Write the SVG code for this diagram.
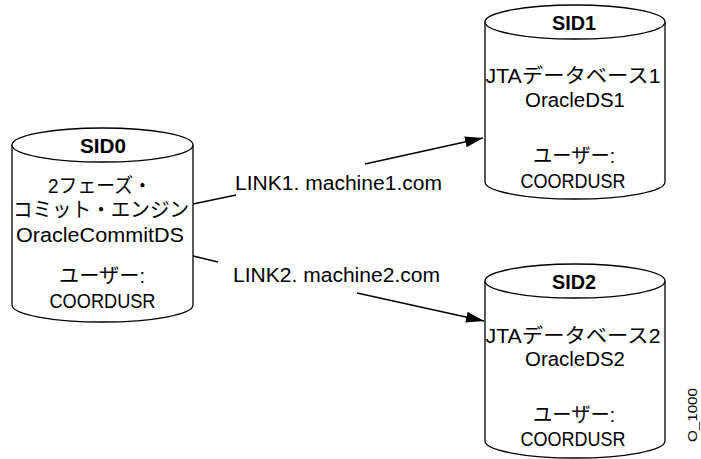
<svg xmlns="http://www.w3.org/2000/svg" width="701" height="459" viewBox="0 0 701 459">
<style>
.cyl{fill:#fff;stroke:#000;stroke-width:1.3}
.t{font-family:"Liberation Sans","Noto Sans CJK JP",sans-serif;font-size:20.5px;fill:#000;text-anchor:middle}
.b{font-weight:bold;font-size:21px}
.ln{fill:none;stroke:#000;stroke-width:1.3}
</style>
<defs>
<marker id="ah" viewBox="0 0 18 11" refX="18" refY="5.5" markerWidth="18" markerHeight="11" markerUnits="userSpaceOnUse" orient="auto">
<path d="M0,0 L18,5.5 L0,11 Z" fill="#000"/>
</marker>
</defs>
<rect width="701" height="459" fill="#fff"/>
<g id="connectors">
<path class="ln" d="M193,204 L236,195"/>
<path class="ln" d="M365,164 L483,138" marker-end="url(#ah)"/>
<path class="ln" d="M193,256 L218,262"/>
<path class="ln" d="M357,293 L484,321" marker-end="url(#ah)"/>
<text class="t" x="338.5" y="190" textLength="207" lengthAdjust="spacingAndGlyphs">LINK1. machine1.com</text>
<text class="t" x="336.5" y="282" textLength="207" lengthAdjust="spacingAndGlyphs">LINK2. machine2.com</text>
</g>
<g id="sid0">
<path class="cyl" d="M12,145 L12,305 A90.5,17 0 0 0 193,305 L193,145"/>
<ellipse class="cyl" cx="102.5" cy="145" rx="90.5" ry="17"/>
<text class="t b" x="103" y="153" textLength="46" lengthAdjust="spacingAndGlyphs">SID0</text>
<text class="t" x="100" y="193" textLength="104" lengthAdjust="spacingAndGlyphs">2フェーズ・</text>
<text class="t" x="101" y="217" textLength="176" lengthAdjust="spacingAndGlyphs">コミット・エンジン</text>
<text class="t" x="100" y="242" textLength="168" lengthAdjust="spacingAndGlyphs">OracleCommitDS</text>
<text class="t" x="102" y="283" textLength="86" lengthAdjust="spacingAndGlyphs">ユーザー:</text>
<text class="t" x="102.5" y="308" textLength="106" lengthAdjust="spacingAndGlyphs">COORDUSR</text>
</g>
<g id="sid1">
<path class="cyl" d="M485,22 L485,182 A90,17 0 0 0 665,182 L665,22"/>
<ellipse class="cyl" cx="575" cy="22" rx="90" ry="17"/>
<text class="t b" x="574" y="30" textLength="44" lengthAdjust="spacingAndGlyphs">SID1</text>
<text class="t" x="573" y="83" textLength="175" lengthAdjust="spacingAndGlyphs">JTAデータベース1</text>
<text class="t" x="575" y="107" textLength="100" lengthAdjust="spacingAndGlyphs">OracleDS1</text>
<text class="t" x="574" y="163" textLength="82" lengthAdjust="spacingAndGlyphs">ユーザー:</text>
<text class="t" x="573" y="188" textLength="105" lengthAdjust="spacingAndGlyphs">COORDUSR</text>
</g>
<g id="sid2">
<path class="cyl" d="M485,281 L485,441 A90,17 0 0 0 665,441 L665,281"/>
<ellipse class="cyl" cx="575" cy="281" rx="90" ry="17"/>
<text class="t b" x="574" y="289" textLength="44" lengthAdjust="spacingAndGlyphs">SID2</text>
<text class="t" x="573" y="343" textLength="175" lengthAdjust="spacingAndGlyphs">JTAデータベース2</text>
<text class="t" x="575" y="366" textLength="100" lengthAdjust="spacingAndGlyphs">OracleDS2</text>
<text class="t" x="574" y="422" textLength="82" lengthAdjust="spacingAndGlyphs">ユーザー:</text>
<text class="t" x="573" y="446" textLength="105" lengthAdjust="spacingAndGlyphs">COORDUSR</text>
</g>
<text class="t" style="font-size:13px" transform="translate(697,415) rotate(-90)" textLength="54" lengthAdjust="spacingAndGlyphs">O_1000</text>
</svg>
